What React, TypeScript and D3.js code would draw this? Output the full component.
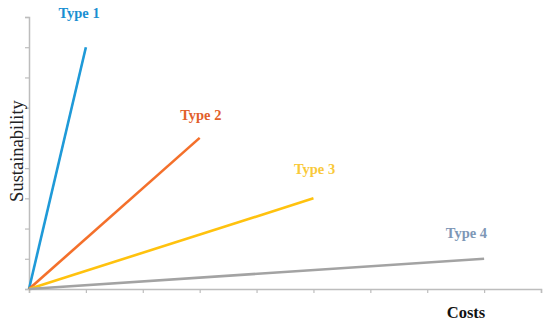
import { useEffect, useRef } from "react";
import * as d3 from "d3";

// each type is a straight line from the origin to its end point
const types = ["Type 1", "Type 2", "Type 3", "Type 4"];
const endCosts = [1, 3, 5, 8];
const endSustainability = [8, 5, 3, 1];
const lineColors = ["#1f9ad8", "#f4702b", "#ffc20e", "#a3a3a3"];
const labelColors = ["#1a8fd2", "#e2602a", "#f9c93a", "#7e97b6"];
// label position in data units (costs, sustainability)
const labelPos = [[0.88, 8.97], [3.02, 5.6], [5.02, 3.8], [7.69, 1.68]];
const xTicks = d3.range(0, 10);
const yTicks = d3.range(0, 10);

export default function App() {
  const gRef = useRef<SVGGElement>(null);

  const W = 550;
  const H = 327;
  const x = d3.scaleLinear().domain([0, 9]).range([29, 541]);
  const y = d3.scaleLinear().domain([0, 9]).range([289, 17]);

  useEffect(() => {
    const g = d3.select(gRef.current);

    // axes
    const xAxis = d3.axisBottom(x).tickValues(xTicks).tickSize(4).tickFormat(() => "");
    const yAxis = d3.axisLeft(y).tickValues(yTicks).tickSize(4).tickFormat(() => "");

    const xg = g.append("g").attr("transform", `translate(0, ${y(0)})`).call(xAxis);
    const yg = g.append("g").attr("transform", `translate(${x(0)}, 0)`).call(yAxis);
    [xg, yg].forEach(a => {
      a.select(".domain").attr("stroke", "#bdbdbd").attr("stroke-width", 1.5);
      a.selectAll(".tick line").attr("stroke", "#bdbdbd").attr("stroke-width", 1.2);
    });

    const line = d3.line<[number, number]>()
      .x(d => x(d[0]))
      .y(d => y(d[1]));

    g.append("g")
      .attr("fill", "none")
      .attr("stroke-width", 2.6)
      .selectAll("path")
      .data(types)
      .join("path")
        .attr("d", (_, i) => line([[0, 0], [endCosts[i], endSustainability[i]]]))
        .attr("stroke", (_, i) => lineColors[i]);

    g.append("g")
      .selectAll("text")
      .data(types)
      .join("text")
        .attr("x", (_, i) => x(labelPos[i][0]))
        .attr("y", (_, i) => y(labelPos[i][1]))
        .attr("text-anchor", "middle")
        .attr("font-family", "'Liberation Serif', serif")
        .attr("font-weight", "bold")
        .attr("font-size", 14.5)
        .attr("fill", (_, i) => labelColors[i])
        .text(d => d);

    // axis titles
    g.append("text")
      .attr("x", 466)
      .attr("y", 318)
      .attr("text-anchor", "middle")
      .attr("font-family", "'Liberation Serif', serif")
      .attr("font-weight", "bold")
      .attr("font-size", 16.5)
      .attr("fill", "#111")
      .text("Costs");

    g.append("text")
      .attr("transform", "translate(23, 151) rotate(-90)")
      .attr("text-anchor", "middle")
      .attr("font-family", "'Liberation Serif', serif")
      .attr("font-size", 18.5)
      .attr("fill", "#222")
      .text("Sustainability");

    return () => { g.selectAll("*").remove(); };
  }, []);

  return (
    <svg width={W} height={H} style={{ position: "absolute", left: 0, top: 0, background: "#fff" }}>
      <g ref={gRef}></g>
    </svg>
  );
}
